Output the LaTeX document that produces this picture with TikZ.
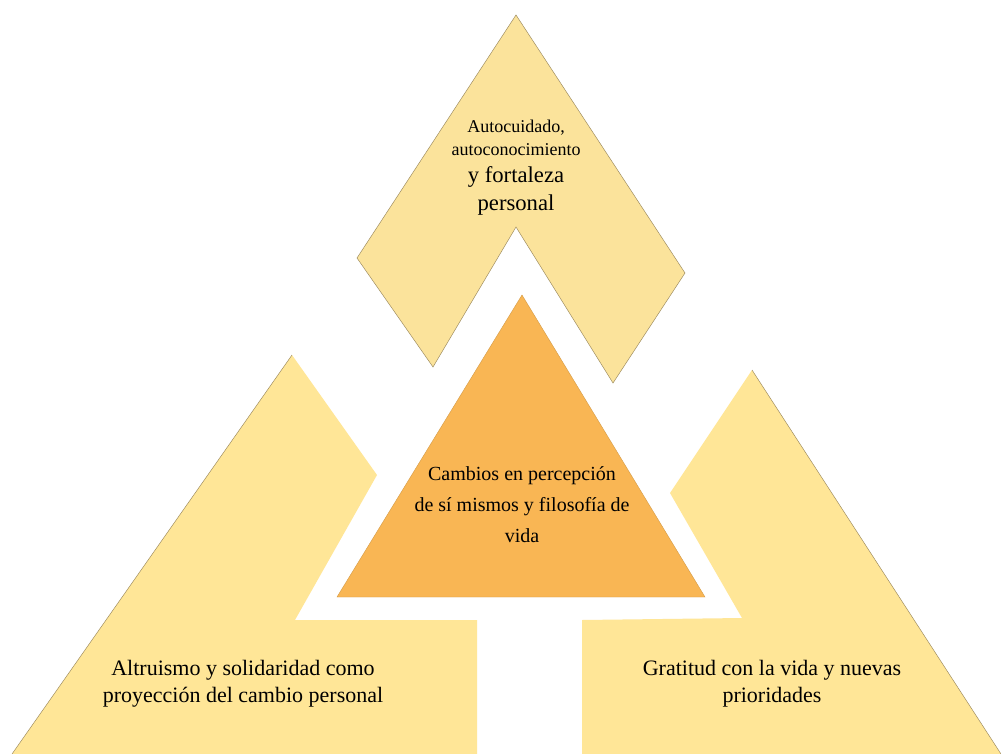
\documentclass[tikz,border=0pt]{standalone}
\usepackage{fontspec}
\setmainfont{Liberation Serif}
\definecolor{pale}{HTML}{FBE39B}
\definecolor{sand}{HTML}{FFE697}
\definecolor{amber}{HTML}{F9B654}
\definecolor{edge}{HTML}{9C8A5E}
\tikzset{
  shapefill/.style={fill=#1, draw=none},
  rim/.style={draw=edge, line width=0.35pt},
  lbl/.style={align=center, text=black, inner sep=0pt},
}
\begin{document}
\begin{tikzpicture}[x=0.75pt, y=-0.75pt]
\useasboundingbox (0,0) rectangle (1001,754);
\fill[white] (0,0) rectangle (1001,754);
% top shape
\path[shapefill=pale, rim] (516,15) -- (357,258) -- (433,367) -- (516,227) -- (613,383) -- (685,273) -- cycle;
% left shape
\path[shapefill=sand] (292,355) -- (377,475) -- (295,620) -- (477,620) -- (477,754) -- (12,754) -- cycle;
\draw[rim] (12,754) -- (292,355);
% right shape
\path[shapefill=sand] (752,370) -- (670,493) -- (742,618) -- (582,620) -- (582,754) -- (1001,754) -- cycle;
\draw[rim] (752,370) -- (1001,754);
% center triangle
\path[shapefill=amber, draw=amber!85!black, line width=0.3pt] (522,295) -- (337,597) -- (705,597) -- cycle;
% labels (anchor base = baseline of the last line)
\node[lbl, font=\fontsize{17}{21}\selectfont, anchor=base] (top) at (516,210)
  {\fontsize{13.5}{17}\selectfont Autocuidado,\\[-4pt]
   \fontsize{13.5}{17}\selectfont autoconocimiento\\[-1pt]
   y fortaleza\\ personal};
\node[lbl, font=\fontsize{15}{23}\selectfont, anchor=base] (mid) at (522,542)
  {Cambios en percepción\\ de sí mismos y filosofía de\\ vida};
\node[lbl, font=\fontsize{16.5}{20}\selectfont, anchor=base] (left) at (243,702)
  {Altruismo y solidaridad como\\ proyección del cambio personal};
\node[lbl, font=\fontsize{16.5}{20}\selectfont, anchor=base] (right) at (772,702)
  {Gratitud con la vida y nuevas\\ prioridades};
\end{tikzpicture}
\end{document}
